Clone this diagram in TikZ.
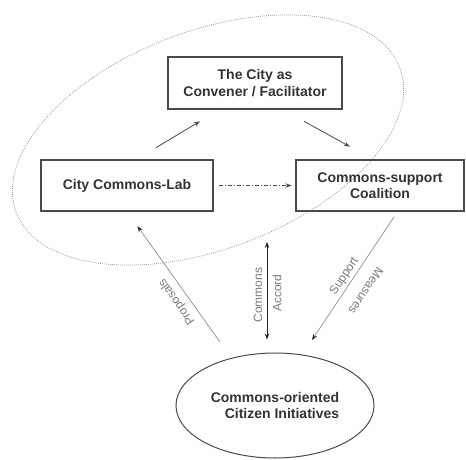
\documentclass[tikz,border=0pt]{standalone}
\usepackage{fontspec}
\setmainfont{Liberation Sans}
\usetikzlibrary{arrows.meta,shapes.geometric,calc}
\definecolor{boxline}{HTML}{4A4A4A}
\definecolor{boxtext}{HTML}{333333}
\definecolor{lbl}{HTML}{7A7A7A}
\definecolor{grayline}{HTML}{9A9A9A}
\tikzset{
  box/.style={draw=boxline, line width=1.1pt, inner sep=0pt, text=boxtext,
    font=\bfseries\fontsize{14}{16.5}\selectfont, align=center},
  grouping/.style={draw=gray!80, line width=0.7pt, dash pattern=on 0.9pt off 1.1pt,
    ellipse, inner sep=0pt},
  arr/.style={draw=boxline, line width=0.8pt, -{Stealth[length=6pt,width=4.5pt]}},
  grayarr/.style={draw=grayline, line width=0.8pt, -{Stealth[length=6pt,width=4.5pt,color=black!85]}},
  lab/.style={text=lbl, font=\fontsize{12}{14}\selectfont, inner sep=0pt}
}
\begin{document}
\begin{tikzpicture}[x=1pt,y=1pt]
\useasboundingbox (0,0) rectangle (466,459);
% grouping ellipse
\node[grouping, rotate=20.7, minimum width=410pt, minimum height=218pt] (group) at (208,319) {};
% boxes
\node[box, minimum width=174pt, minimum height=52pt] (top) at (255,376) {The City as\\Convener / Facilitator};
\node[box, minimum width=172pt, minimum height=51pt] (left) at (127,273.5) {City Commons-Lab};
\node[box, minimum width=168pt, minimum height=51pt] (right) at (380,273.5) {Commons-support\\Coalition};
\node[draw=boxline, line width=1pt, ellipse, minimum width=198pt, minimum height=105pt, inner sep=0pt,
  text=boxtext, font=\bfseries\fontsize{14}{16.5}\selectfont, align=right] (bottom) at (275,53.5)
  {Commons-oriented\\Citizen Initiatives};
% arrows between boxes
\draw[arr, shorten <=23pt, shorten >=23pt] ([xshift=9.4pt]left.north) -- ([xshift=-35.4pt]top.south);
\draw[arr, shorten <=24.4pt, shorten >=26.4pt] ([xshift=27.8pt]top.south) -- ([xshift=-7pt]right.north);
\draw[arr, dash pattern=on 4pt off 2pt on 1pt off 2pt, shorten <=5pt, shorten >=4pt] (left.east) -- (right.west);
% proposals
\coordinate (pstart) at (220,117);
\draw[grayarr, shorten >=18pt] (pstart) -- (left.south);
\node[lab, rotate=125.3] (proposals) at (177,157) {Proposals};
% commons accord
\coordinate (accordtop) at (267,217);
\draw[draw=black!85, line width=0.9pt, {Stealth[length=6pt,width=4.5pt]}-{Stealth[length=6pt,width=4.5pt]}, shorten >=13pt]
  (accordtop) -- ([xshift=-8pt]bottom.north);
\node[lab, rotate=90] (commons) at (258,164) {Commons};
\node[lab, rotate=90] (accord) at (277,166) {Accord};
% support measures
\coordinate (send) at (312,119);
\draw[grayarr, shorten <=6pt] ([xshift=17.6pt]right.south) -- (send);
\node[lab, rotate=56.4] (support) at (344.5,182.5) {Support};
\node[lab, rotate=236.4] (measures) at (366,168) {Measures};
\end{tikzpicture}
\end{document}
